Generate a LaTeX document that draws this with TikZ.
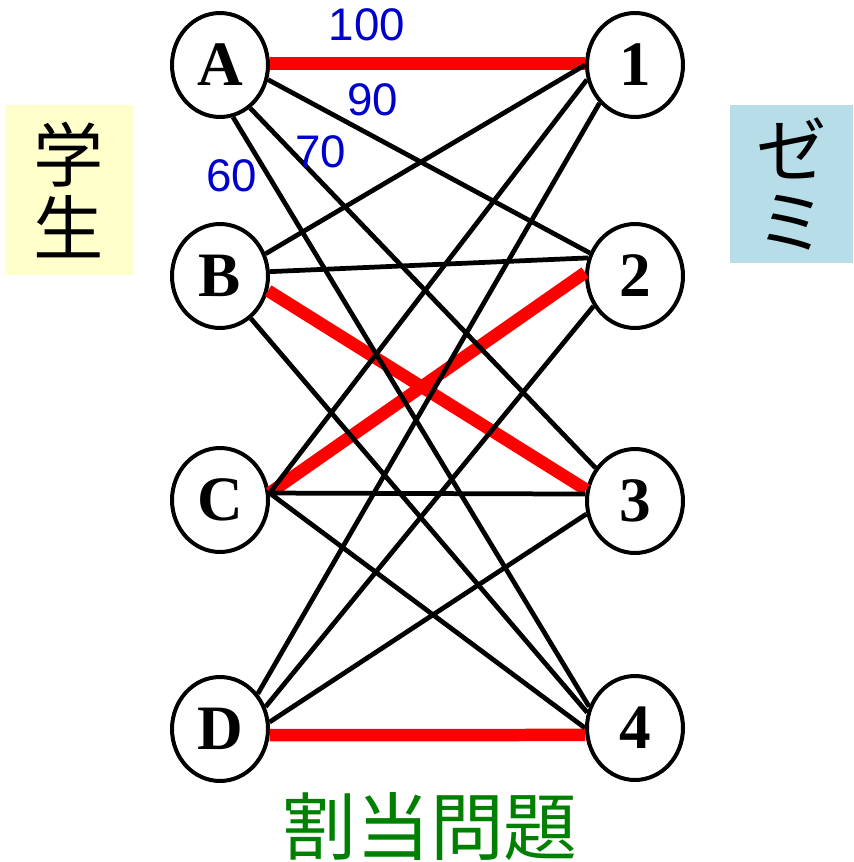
\documentclass[tikz,border=0pt]{standalone}
\usepackage{fontspec}
\setmainfont{Liberation Serif}
\newfontfamily\jpfont{Noto Sans CJK JP}
\newfontfamily\numfont{Liberation Sans}
\usetikzlibrary{shapes.geometric}
\definecolor{weightblue}{RGB}{0,0,204}
\definecolor{titlegreen}{RGB}{0,128,0}
\definecolor{studentyellow}{RGB}{255,255,204}
\definecolor{zemiaqua}{RGB}{183,222,232}

\begin{document}
\begin{tikzpicture}[
    x=0.02cm,
    y=-0.02cm,
    vertex/.style={
        ellipse,
        draw,
        line width=0.08cm,
        minimum width=1.92cm,
        minimum height=2.08cm,
        inner sep=0pt,
        font=\fontsize{36}{36}\selectfont\bfseries
    },
    edgeline/.style={
        line width=0.095cm
    },
    matchline/.style={
        line width=0.25cm,
        red
    },
    weight/.style={
        text=weightblue,
        inner sep=0pt,
        font=\numfont\fontsize{26}{26}\selectfont
    },
    tagbox/.style={
        align=center,
        inner sep=0pt,
        font=\jpfont\fontsize{40}{41}\selectfont
    }
]

\useasboundingbox (0,0) rectangle (854,862);

\node[tagbox, fill=studentyellow, minimum width=2.56cm, minimum height=3.4cm]
(studenttag) at (69,190) {学\\生};

\node[tagbox, fill=zemiaqua, minimum width=2.46cm, minimum height=3.16cm]
(zemitag) at (791.5,184) {ゼ\\ミ};

\node[vertex] (stuA) at (220,65) {A};
\node[vertex] (stuB) at (220,276) {B};
\node[vertex] (stuC) at (220,500) {C};
\node[vertex] (stuD) at (220,729) {D};

\node[vertex] (zemi1) at (635,65) {1};
\node[vertex] (zemi2) at (635,276) {2};
\node[vertex] (zemi3) at (635,501) {3};
\node[vertex] (zemi4) at (635,728) {4};

% matching
\draw[matchline] (stuA.2) -- (zemi1.178);
\draw[matchline] (stuB.-17) -- (zemi3.167);
\draw[matchline] (stuC.8) -- (zemi2.176);
\draw[matchline] (stuD.-7) -- (zemi4.-172);

% other pairs
\draw[edgeline] (stuA.-17) -- (zemi2.153);
\draw[edgeline] (stuA.-55) -- (zemi3.140);
\draw[edgeline] (stuA.-76) -- (zemi4.155);

\draw[edgeline] (stuB.26) -- (zemi1.180);
\draw[edgeline] (stuB.5) -- (zemi2.159);
\draw[edgeline] (stuB.-54) -- (zemi4.162);

\draw[edgeline] (stuC.8) -- (zemi1.-163);
\draw[edgeline] (stuC.8) -- (zemi3.172);
\draw[edgeline] (stuC.8) -- (zemi4.180);

\draw[edgeline] (stuD.43) -- (zemi1.-133);
\draw[edgeline] (stuD.26) -- (zemi2.-144);
\draw[edgeline] (stuD.8) -- (zemi3.-165);

\node[weight] (w100) at (367,25) {100};
\node[weight] (w90) at (373,100) {90};
\node[weight] (w70) at (321,152) {70};
\node[weight] (w60) at (232,176) {60};

\node[text=titlegreen, inner sep=0pt, font=\jpfont\fontsize{42}{42}\selectfont]
(title) at (430,827) {割当問題};

\end{tikzpicture}
\end{document}
